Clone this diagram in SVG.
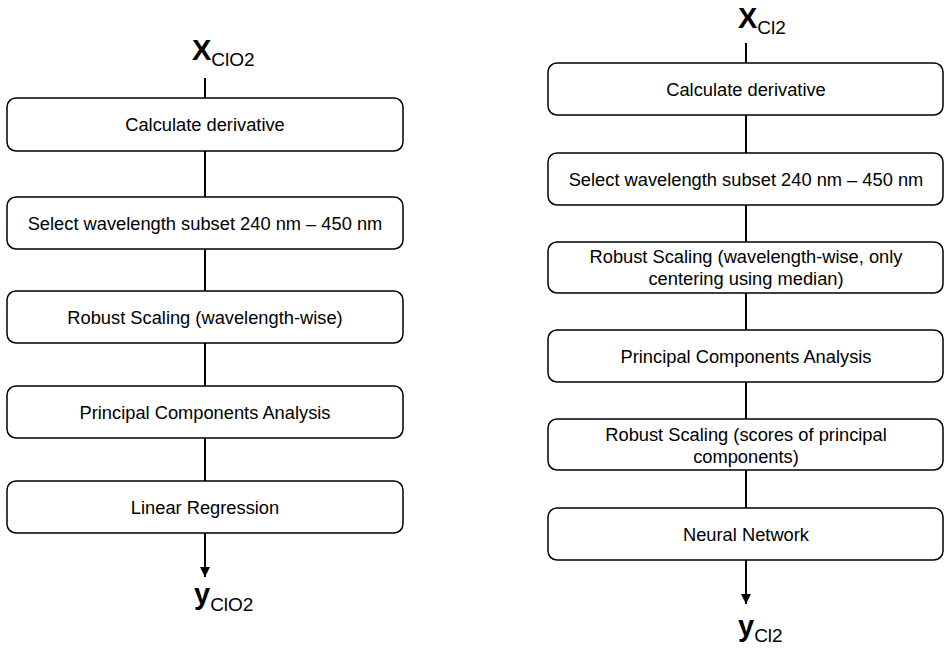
<svg xmlns="http://www.w3.org/2000/svg" width="945" height="648" viewBox="0 0 945 648">
  <style>
    .box { fill: #ffffff; stroke: #000000; stroke-width: 1.5; }
    .lbl { font-family: "Liberation Sans", Arial, sans-serif; font-size: 18.3px; fill: #000000; text-anchor: middle; }
    .var { font-family: "Liberation Sans", Arial, sans-serif; font-size: 29px; font-weight: bold; fill: #000000; }
    .sub { font-family: "Liberation Sans", Arial, sans-serif; font-size: 19px; font-weight: normal; }
    .wire { stroke: #000000; stroke-width: 2; fill: none; }
  </style>
  <defs>
    <marker id="arrow" markerWidth="10" markerHeight="10" refX="10" refY="5" orient="auto" markerUnits="userSpaceOnUse">
      <path d="M0,0 L10,5 L0,10 Z" fill="#000000"/>
    </marker>
  </defs>
  <rect width="945" height="648" fill="#ffffff"/>

  <!-- connectors -->
  <g id="connectors">
    <!-- ClO2 pipeline -->
    <line class="wire" x1="205" y1="78" x2="205" y2="98"/>
    <line class="wire" x1="205" y1="151" x2="205" y2="197"/>
    <line class="wire" x1="205" y1="249" x2="205" y2="291"/>
    <line class="wire" x1="205" y1="343" x2="205" y2="386"/>
    <line class="wire" x1="205" y1="438" x2="205" y2="481"/>
    <line class="wire" x1="205" y1="533" x2="205" y2="577" marker-end="url(#arrow)"/>
    <!-- Cl2 pipeline -->
    <line class="wire" x1="746" y1="43" x2="746" y2="63"/>
    <line class="wire" x1="746" y1="115" x2="746" y2="153"/>
    <line class="wire" x1="746" y1="205" x2="746" y2="242"/>
    <line class="wire" x1="746" y1="293" x2="746" y2="330"/>
    <line class="wire" x1="746" y1="382" x2="746" y2="419"/>
    <line class="wire" x1="746" y1="470" x2="746" y2="508"/>
    <line class="wire" x1="746" y1="560" x2="746" y2="604" marker-end="url(#arrow)"/>
  </g>

  <!-- ClO2 input / output -->
  <g id="x-clo2">
    <text class="var" x="192" y="60">X<tspan class="sub" dy="6">ClO2</tspan></text>
  </g>
  <g id="y-clo2">
    <text class="var" x="194" y="604">y<tspan class="sub" dy="7">ClO2</tspan></text>
  </g>

  <!-- ClO2 steps -->
  <g id="l-derivative">
    <rect class="box" x="7" y="98" width="396" height="53" rx="9"/>
    <text class="lbl" x="205" y="131">Calculate derivative</text>
  </g>
  <g id="l-subset">
    <rect class="box" x="7" y="197" width="396" height="52" rx="9"/>
    <text class="lbl" x="205" y="229.5">Select wavelength subset 240 nm – 450 nm</text>
  </g>
  <g id="l-scaling">
    <rect class="box" x="7" y="291" width="396" height="52" rx="9"/>
    <text class="lbl" x="205" y="323.5">Robust Scaling (wavelength-wise)</text>
  </g>
  <g id="l-pca">
    <rect class="box" x="7" y="386" width="396" height="52" rx="9"/>
    <text class="lbl" x="205" y="418.5">Principal Components Analysis</text>
  </g>
  <g id="l-regression">
    <rect class="box" x="7" y="481" width="396" height="52" rx="9"/>
    <text class="lbl" x="205" y="513.5">Linear Regression</text>
  </g>

  <!-- Cl2 input / output -->
  <g id="x-cl2">
    <text class="var" x="738" y="28">X<tspan class="sub" dy="6">Cl2</tspan></text>
  </g>
  <g id="y-cl2">
    <text class="var" x="738" y="636">y<tspan class="sub" dy="6">Cl2</tspan></text>
  </g>

  <!-- Cl2 steps -->
  <g id="r-derivative">
    <rect class="box" x="548" y="63" width="395" height="52" rx="9"/>
    <text class="lbl" x="746" y="95.5">Calculate derivative</text>
  </g>
  <g id="r-subset">
    <rect class="box" x="548" y="153" width="395" height="52" rx="9"/>
    <text class="lbl" x="746" y="185.5">Select wavelength subset 240 nm – 450 nm</text>
  </g>
  <g id="r-scaling">
    <rect class="box" x="548" y="242" width="395" height="51" rx="9"/>
    <text class="lbl" x="746" y="263">Robust Scaling (wavelength-wise, only</text>
    <text class="lbl" x="746" y="284.5">centering using median)</text>
  </g>
  <g id="r-pca">
    <rect class="box" x="548" y="330" width="395" height="52" rx="9"/>
    <text class="lbl" x="746" y="362.5">Principal Components Analysis</text>
  </g>
  <g id="r-scaling-scores">
    <rect class="box" x="548" y="419" width="395" height="51" rx="9"/>
    <text class="lbl" x="746" y="441">Robust Scaling (scores of principal</text>
    <text class="lbl" x="746" y="462.5">components)</text>
  </g>
  <g id="r-network">
    <rect class="box" x="548" y="508" width="395" height="52" rx="9"/>
    <text class="lbl" x="746" y="540.5">Neural Network</text>
  </g>
</svg>
